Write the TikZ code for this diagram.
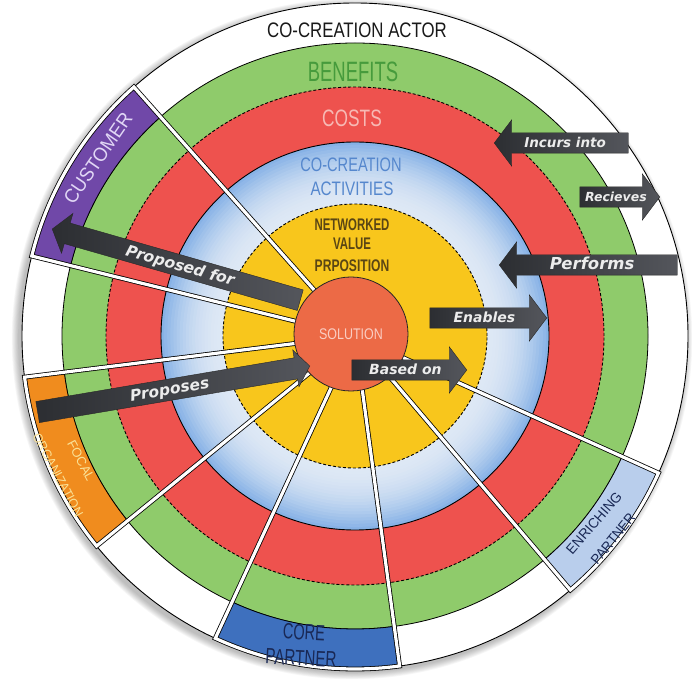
\documentclass[tikz,border=0pt]{standalone}
\usepackage{fontspec}
\usepackage{graphicx}
\setmainfont{Liberation Sans}
\newfontfamily\arrowfont{DejaVu Sans}
\usetikzlibrary{shapes.arrows,calc}

% ring and box colours
\definecolor{ringgreen}{RGB}{143,203,107}
\definecolor{ringred}{RGB}{238,82,78}
\definecolor{ringyellow}{RGB}{248,198,28}
\definecolor{bluein}{RGB}{222,232,245}
\definecolor{blueout}{RGB}{135,178,230}
\definecolor{solfill}{RGB}{236,106,70}
\definecolor{custfill}{RGB}{112,72,168}
\definecolor{focalfill}{RGB}{240,140,30}
\definecolor{corefill}{RGB}{62,112,190}
\definecolor{enrichfill}{RGB}{185,206,236}
\definecolor{arrowdark}{RGB}{44,46,50}
\definecolor{arrowlight}{RGB}{84,86,92}
\definecolor{arrowtext}{RGB}{236,236,236}
% label colours
\definecolor{benefitsgreen}{RGB}{70,155,60}
\definecolor{costspink}{RGB}{247,185,180}
\definecolor{actblue}{RGB}{85,135,205}
\definecolor{nvpbrown}{RGB}{90,70,20}
\definecolor{solpink}{RGB}{250,205,195}
\definecolor{custtext}{RGB}{225,215,245}
\definecolor{focaltext}{RGB}{250,225,150}
\definecolor{navytext}{RGB}{25,40,85}

\tikzset{
  spoke/.style={draw=black, line width=0.8pt, double=white,
    double distance=3.2pt, line join=miter},
  blockarrow/.style={single arrow, draw=black!85, line width=0.4pt,
    left color=arrowdark, right color=arrowlight, text=arrowtext,
    single arrow head extend=13pt, single arrow tip angle=106,
    text height=10pt, text depth=0pt, inner ysep=5pt, inner xsep=2pt},
  ringtext/.style={inner sep=0pt},
}

% box of a partner in the outer ring, from angle #1 to #2
\newcommand{\partnerbox}[3]{%
  \fill[#3] ($(C)+(#1:293)$) -- ($(C)+(#1:333)$)
    arc[start angle=#1, end angle=#2, radius=333]
    -- ($(C)+(#2:293)$)
    arc[start angle=#2, end angle=#1, radius=293] -- cycle;
  \draw[line width=0.8pt] ($(C)+(#1:293)$)
    arc[start angle=#1, end angle=#2, radius=293];
}
% white framed wedge from the solution out to the box
\newcommand{\wedgeframe}[2]{%
  \draw[spoke] ($(C)+(#1:45)$) -- ($(C)+(#1:333)$)
    arc[start angle=#1, end angle=#2, radius=333]
    -- ($(C)+(#2:45)$);
}

\begin{document}
\begin{tikzpicture}[x=1pt, y=1pt]
\useasboundingbox (0,0) rectangle (692,680);
\coordinate (C) at (355,344);
\coordinate (S) at (351,346);

% soft shadow of the outer disc
\foreach \k in {1,...,8}
  \fill[black, opacity=0.035] ($(C)+(-3,-3)$) circle[radius=333+\k*0.9];

% rings
\draw[fill=white, line width=0.9pt] (C) circle[radius=333];
\draw[fill=ringgreen, line width=0.8pt] (C) circle[radius=293];
\draw[fill=ringred, line width=0.9pt, dash pattern=on 3pt off 2pt] (C) circle[radius=249];
% activities ring: deeper blue at the rim fading to pale inside
\foreach \i in {0,...,20} {
  \pgfmathsetmacro{\rr}{194-\i*3.1}
  \pgfmathsetmacro{\pp}{100*(1-\i/20)^2}
  \fill[blueout!\pp!bluein] (C) circle[radius=\rr];
}
\draw[line width=0.9pt] (C) circle[radius=194];
\draw[fill=ringyellow, line width=0.9pt, dash pattern=on 3pt off 2pt] (C) circle[radius=132];

% actor boxes
\partnerbox{131.6}{166.1}{custfill}
\partnerbox{187.1}{219.1}{focalfill}
\partnerbox{245.2}{277.7}{corefill}
\partnerbox{310.3}{335.7}{enrichfill}

\wedgeframe{131.6}{166.1}
\wedgeframe{187.1}{219.1}
\wedgeframe{245.2}{277.7}
\wedgeframe{310.3}{335.7}

% ring titles
\node[ringtext, font=\fontsize{21}{21}\selectfont, text=black!90] (actor) at (357,650)
  {\scalebox{0.8}[1]{CO-CREATION ACTOR}};
\node[ringtext, font=\fontsize{28}{28}\selectfont, text=benefitsgreen] (benefits) at (353,608)
  {\scalebox{0.66}[1]{BENEFITS}};
\node[ringtext, font=\fontsize{23.7}{24}\selectfont, text=costspink] (costs) at (352,562)
  {\scalebox{0.73}[1]{COSTS}};
\node[ringtext, font=\fontsize{19.5}{20}\selectfont, text=actblue] (act1) at (351,515)
  {\scalebox{0.75}[1]{CO-CREATION}};
\node[ringtext, font=\fontsize{19.5}{20}\selectfont, text=actblue] (act2) at (352,491)
  {\scalebox{0.78}[1]{ACTIVITIES}};
\node[ringtext, font=\fontsize{16.8}{17}\selectfont\bfseries, text=nvpbrown] (nvp1) at (352,455)
  {\scalebox{0.68}[1]{NETWORKED}};
\node[ringtext, font=\fontsize{16.8}{17}\selectfont\bfseries, text=nvpbrown] (nvp2) at (352,436)
  {\scalebox{0.68}[1]{VALUE}};
\node[ringtext, font=\fontsize{16.8}{17}\selectfont\bfseries, text=nvpbrown] (nvp3) at (352,414)
  {\scalebox{0.72}[1]{PRPOSITION}};

% actor labels
\node[ringtext, font=\fontsize{19.5}{20}\selectfont, text=custtext, rotate=55.5] (customer) at (98,522)
  {\scalebox{0.95}[1]{CUSTOMER}};
\node[ringtext, font=\fontsize{13}{13}\selectfont, text=focaltext, rotate=-62] (focal1) at (81,219)
  {FOCAL};
\node[ringtext, font=\fontsize{13}{13}\selectfont, text=focaltext, rotate=-62] (focal2) at (58,205)
  {\scalebox{0.95}[1]{ORGANIZATION}};
\node[ringtext, font=\fontsize{22}{22}\selectfont, text=navytext, rotate=-3] (core1) at (304,48)
  {\scalebox{0.66}[1]{CORE}};
\node[ringtext, font=\fontsize{22}{22}\selectfont, text=navytext, rotate=-3] (core2) at (301,22)
  {\scalebox{0.69}[1]{PARTNER}};
\node[ringtext, font=\fontsize{14}{14}\selectfont, text=navytext, rotate=49] (enrich1) at (594,157)
  {\scalebox{0.98}[1]{ENRICHING}};
\node[ringtext, font=\fontsize{14}{14}\selectfont, text=navytext, rotate=51] (enrich2) at (613,141)
  {\scalebox{0.94}[1]{PARTNER}};

% solution at the centre
\node[circle, draw=black!85, line width=0.8pt, fill=solfill, minimum size=114pt,
  inner sep=0pt, text=solpink, font=\fontsize{15.4}{15.4}\selectfont] (solution) at (S)
  {\scalebox{0.81}[1]{SOLUTION}};

% relation arrows
\node[blockarrow, shape border rotate=180, minimum height=134pt, anchor=tip,
  font=\arrowfont\bfseries\itshape\fontsize{13.5}{13.5}\selectfont] (incurs) at (494,537) {Incurs into};
\node[blockarrow, minimum height=80pt, anchor=tip,
  font=\arrowfont\bfseries\itshape\fontsize{12.5}{12.5}\selectfont] (receives) at (660,483) {Recieves};
\node[blockarrow, shape border rotate=180, minimum height=178pt, anchor=tip,
  font=\arrowfont\bfseries\itshape\fontsize{16.5}{16.5}\selectfont] (performs) at (499,415) {Performs};
\node[blockarrow, minimum height=117pt, anchor=tip,
  font=\arrowfont\bfseries\itshape\fontsize{14}{14}\selectfont] (enables) at (547,362) {Enables};
\node[blockarrow, minimum height=115pt, anchor=tip,
  font=\arrowfont\bfseries\itshape\fontsize{14}{14}\selectfont] (basedon) at (467,310) {Based on};
\node[blockarrow, shape border rotate=180, rotate=-16, minimum height=258pt, anchor=tip,
  single arrow head extend=10pt, inner ysep=5.5pt,
  font=\arrowfont\bfseries\itshape\fontsize{15.5}{15.5}\selectfont] (proposedfor) at (52,451) {Proposed for};
\node[blockarrow, rotate=9.6, minimum height=276pt, anchor=tip,
  single arrow head extend=8pt, inner ysep=5.5pt,
  font=\arrowfont\bfseries\itshape\fontsize{15.5}{15.5}\selectfont] (proposes) at (310,314) {Proposes};
\end{tikzpicture}
\end{document}
